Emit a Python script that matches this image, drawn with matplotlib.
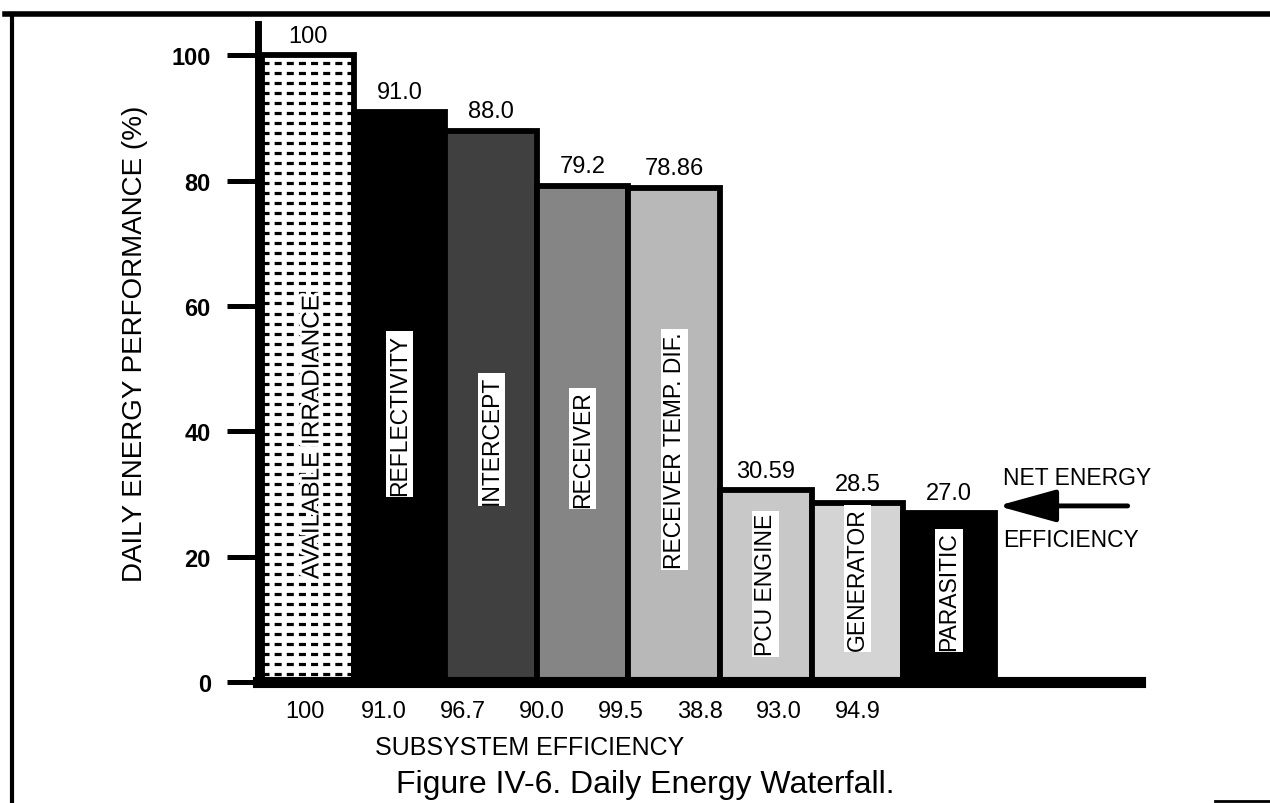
# waterfall.py
# Daily energy waterfall, bar chart with subsystem efficiencies.

import numpy as np
import matplotlib
matplotlib.use('Agg')
import matplotlib.pyplot as plt
import matplotlib.patheffects as pe
from matplotlib.lines import Line2D

plt.rcParams['font.family'] = ['Liberation Sans', 'DejaVu Sans']

# Data
stages = ['AVAILABLE IRRADIANCE', 'REFLECTIVITY', 'INTERCEPT', 'RECEIVER',
          'RECEIVER TEMP. DIF.', 'PCU ENGINE', 'GENERATOR', 'PARASITIC']
performance = [100, 91.0, 88.0, 79.2, 78.86, 30.59, 28.5, 27.0]
perf_labels = ['100', '91.0', '88.0', '79.2', '78.86', '30.59', '28.5', '27.0']
efficiency = ['100', '91.0', '96.7', '90.0', '99.5', '38.8', '93.0', '94.9']
yticks = [0, 20, 40, 60, 80, 100]

# Styles
fills = ['white', 'black', '#404040', '#858585', '#b8b8b8', '#c8c8c8', '#d4d4d4', 'black']
label_frac = [0.39, 0.47, 0.44, 0.47, 0.47, 0.51, 0.58, 0.54]

fig = plt.figure(figsize=(12.7, 8.04), dpi=100)
ax = fig.add_axes([258 / 1270, 121 / 804, 882 / 1270, 658 / 804])

x = np.arange(len(stages))
bars = ax.bar(x, performance, width=1.0, align='edge', color=fills,
              edgecolor='black', linewidth=4.2, zorder=2)

# dashed rows inside the first bar
rows = np.arange(1.2, performance[0], 1.6)
dash = ax.hlines(rows, 0, 1, colors='black', linewidth=2.3,
                 linestyles=[(0, (2.2, 1.6))], zorder=2.5)
dash.set_clip_path(bars[0])

for i, b in enumerate(bars):
    ax.annotate(perf_labels[i], (b.get_x() + 0.5, b.get_height()),
                xytext=(0, 6), textcoords='offset points',
                ha='center', va='bottom', fontsize=17)
    if i == 0:
        ax.text(b.get_x() + 0.55, b.get_height() * label_frac[i], stages[i],
                rotation=90, ha='center', va='center', fontsize=17.5, zorder=3,
                path_effects=[pe.withStroke(linewidth=5, foreground='white')])
    else:
        ax.text(b.get_x() + 0.5, b.get_height() * label_frac[i], stages[i],
                rotation=90, ha='center', va='center', fontsize=16.5, zorder=3,
                bbox=dict(facecolor='white', edgecolor='none', pad=1.5))

ax.set_xlim(-0.045, 9.585)
ax.set_ylim(0, 105)
ax.set_yticks(yticks)
ax.set_yticklabels([str(t) for t in yticks], fontweight='bold', fontsize=17)
ax.tick_params(axis='y', length=22, width=3.6, pad=12, direction='out')

ax.set_xticks(0.47 + 0.862 * np.arange(len(efficiency)))
ax.set_xticklabels(efficiency, fontsize=17)
ax.tick_params(axis='x', length=0, pad=13)

for side in ['top', 'right']:
    ax.spines[side].set_visible(False)
ax.spines['left'].set_linewidth(5)
ax.spines['bottom'].set_linewidth(8)
ax.spines['left'].set_zorder(4)
ax.spines['bottom'].set_zorder(4)

ax.set_ylabel('DAILY ENERGY PERFORMANCE (%)', fontsize=20)
ax.yaxis.set_label_coords(-0.125, 0.515)
ax.set_xlabel('SUBSYSTEM EFFICIENCY', fontsize=18)
ax.xaxis.set_label_coords(0.308, -0.08)

# net energy arrow
ax.annotate('', xy=(8.03, 28.1), xytext=(9.45, 28.1), annotation_clip=False,
            arrowprops=dict(arrowstyle='-|>,head_length=1.8,head_width=0.5',
                            mutation_scale=20, lw=3.5, color='black',
                            shrinkA=0, shrinkB=0))
ax.text(8.09, 32.7, 'NET ENERGY', fontsize=16.5, va='center', ha='left')
ax.text(8.09, 22.8, 'EFFICIENCY', fontsize=16.5, va='center', ha='left')

fig.text(645 / 1270, 19 / 804, 'Figure IV-6. Daily Energy Waterfall.',
         fontsize=23, ha='center', va='center')

# page border
fig.add_artist(Line2D([5 / 1270, 1.0], [789 / 804, 789 / 804], color='black', lw=4))
fig.add_artist(Line2D([12 / 1270, 12 / 1270], [0, 789 / 804], color='black', lw=3))
fig.add_artist(Line2D([1215 / 1270, 1.0], [2 / 804, 2 / 804], color='black', lw=2))

fig.savefig('out.png', dpi=100)
